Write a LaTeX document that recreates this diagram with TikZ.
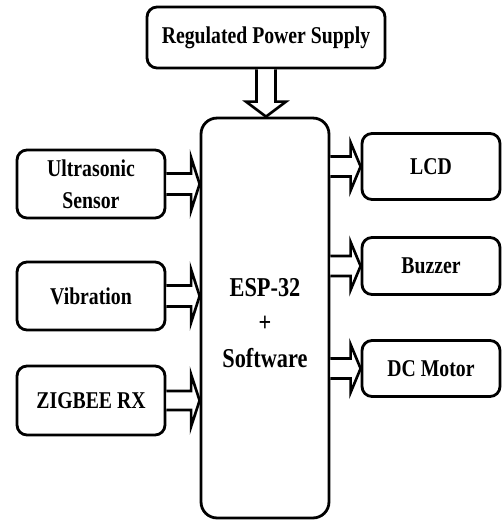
\documentclass[tikz,border=0pt]{standalone}
\usepackage{fontspec}
\setmainfont{Liberation Serif}[FakeStretch=0.82]
\usetikzlibrary{calc}
\tikzset{
  blk/.style={draw=black, line width=1.6pt, rounded corners=0.2cm, align=center, inner sep=0pt,
    font=\fontsize{13.7}{18}\selectfont\bfseries},
  mainblk/.style={blk, rounded corners=0.32cm},
  maintxt/.style={align=center, inner sep=0pt, font=\fontsize{15.5}{20}\selectfont\bfseries},
  blockarr/.style={draw=black, line width=1.5pt, line join=miter, fill=white},
}
% horizontal block arrow: #1 start point, #2 tip point (same y), #3 shaft half, #4 head half, #5 head length
\newcommand\harr[5]{%
  \draw[blockarr] let \p1=(#1), \p2=(#2) in
    (\x1,\y1+#3) -- (\x2-#5,\y1+#3) -- (\x2-#5,\y1+#4) -- (\x2,\y1) --
    (\x2-#5,\y1-#4) -- (\x2-#5,\y1-#3) -- (\x1,\y1-#3);}
% vertical (downward) block arrow
\newcommand\varr[5]{%
  \draw[blockarr] let \p1=(#1), \p2=(#2) in
    (\x1-#3,\y1) -- (\x1-#3,\y2+#5) -- (\x1-#4,\y2+#5) -- (\x1,\y2) --
    (\x1+#4,\y2+#5) -- (\x1+#3,\y2+#5) -- (\x1+#3,\y1);}
\begin{document}
\begin{tikzpicture}[x=0.02cm, y=-0.02cm]
\useasboundingbox (0,0) rectangle (502,521);
\node[blk, minimum width=4.76cm, minimum height=1.22cm] (pwr) at (266,37.5) {Regulated Power Supply};
\node[mainblk, minimum width=2.56cm, minimum height=8.0cm] (esp) at (265,318) {};
\node[maintxt] (esptxt) at (265,323) {ESP-32\\+\\Software};
\node[blk, minimum width=2.96cm, minimum height=1.36cm] (ultra) at (91,184) {Ultrasonic\\Sensor};
\node[blk, minimum width=2.96cm, minimum height=1.36cm] (vib) at (91,296) {Vibration};
\node[blk, minimum width=2.96cm, minimum height=1.38cm] (zig) at (91,400.5) {ZIGBEE RX};
\node[blk, minimum width=2.76cm, minimum height=1.32cm] (lcd) at (431,166.5) {LCD};
\node[blk, minimum width=2.76cm, minimum height=1.14cm] (buz) at (431,266) {Buzzer};
\node[blk, minimum width=2.76cm, minimum height=1.12cm] (mot) at (431,368.5) {DC Motor};
% arrows
\varr{pwr.south}{esp.north -| pwr.south}{0.19cm}{0.4cm}{0.3cm}
\harr{ultra.east}{esp.west |- ultra.east}{0.21cm}{0.53cm}{0.17cm}
\harr{vib.east}{esp.west |- vib.east}{0.21cm}{0.53cm}{0.17cm}
\harr{zig.east}{esp.west |- zig.east}{0.19cm}{0.52cm}{0.17cm}
\harr{esp.east |- lcd.west}{lcd.west}{0.2cm}{0.48cm}{0.2cm}
\harr{esp.east |- buz.west}{buz.west}{0.2cm}{0.48cm}{0.2cm}
\harr{esp.east |- mot.west}{mot.west}{0.2cm}{0.48cm}{0.2cm}
\end{tikzpicture}
\end{document}
